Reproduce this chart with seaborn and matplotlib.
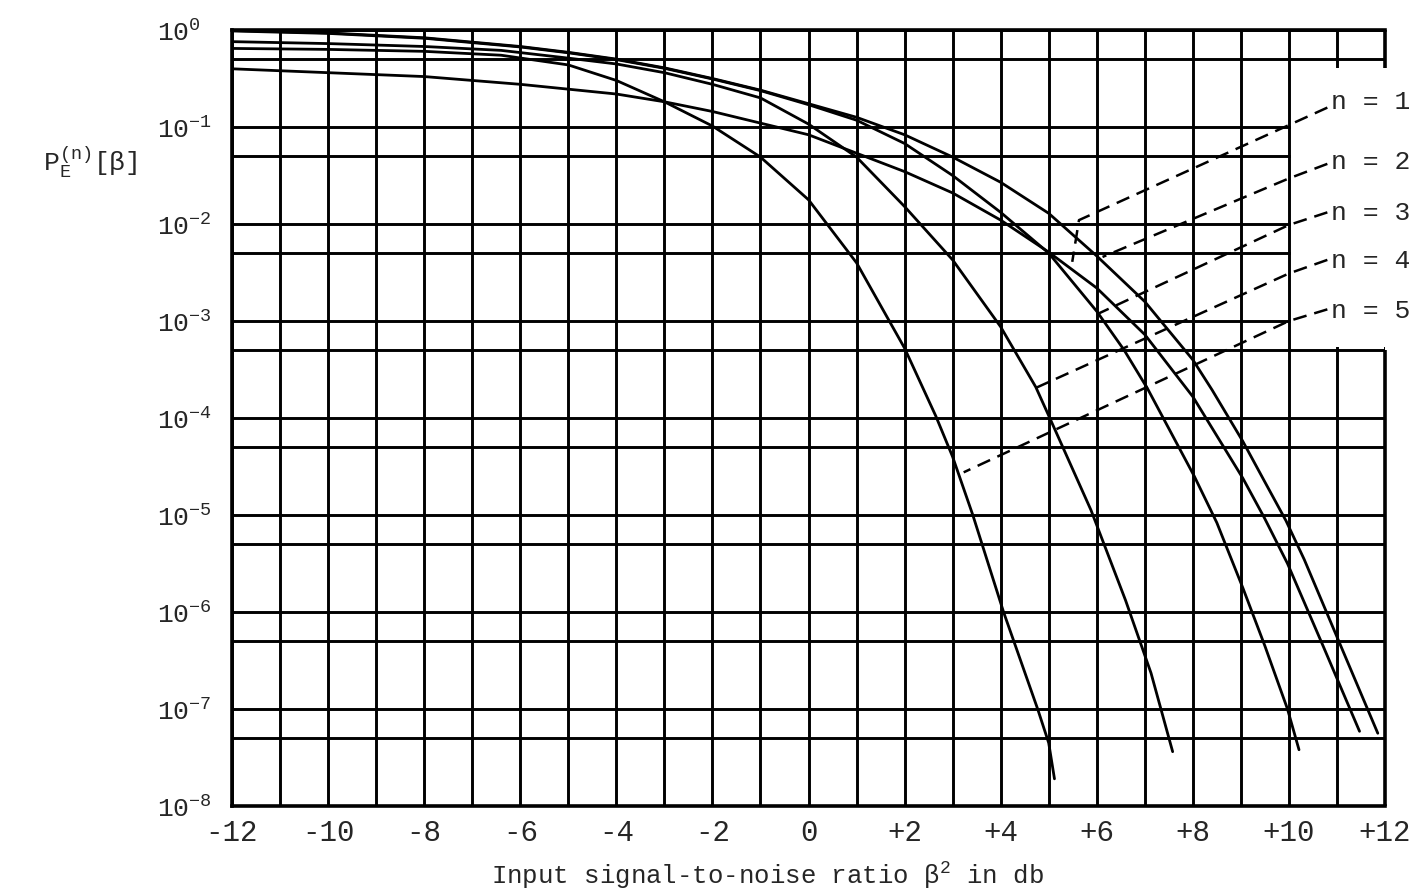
import numpy as np
import pandas as pd
import matplotlib
matplotlib.use("Agg")
import matplotlib.pyplot as plt
import seaborn as sns
from matplotlib.patches import Rectangle
from matplotlib.ticker import FixedLocator, NullFormatter

# ---------------- data ----------------
# x: input signal-to-noise ratio in dB ; values: log10 of P_E read on the log grid
snr_n1 = [-12, -10, -8, -6, -4, -3, -2, -1, 0, 1, 2, 3, 4, 5, 6, 7, 8, 9.04, 9.49, 9.97, 10.72, 11.47]
log_pe_n1 = [-0.40, -0.44, -0.48, -0.56, -0.66, -0.74, -0.84, -0.96, -1.08, -1.27, -1.46, -1.68, -1.96, -2.29,
             -2.66, -3.14, -3.78, -4.62, -5.03, -5.50, -6.36, -7.23]

snr_n2 = [-12, -10, -8, -6, -5, -4, -3, -2, -1, 0, 1, 2, 3, 4, 5, 6, 7, 8, 8.4, 9.04, 9.5, 9.94, 10.32, 11.08, 11.85]
log_pe_n2 = [-0.005, -0.03, -0.08, -0.17, -0.23, -0.30, -0.39, -0.50, -0.62, -0.76, -0.90, -1.08, -1.31, -1.57,
             -1.89, -2.33, -2.80, -3.40, -3.71, -4.24, -4.66, -5.06, -5.46, -6.35, -7.25]

snr_n3 = [-12, -10, -8, -6, -5, -4, -3, -2, -1, 0, 1, 2, 3, 4, 5, 6, 6.57, 7.06, 8.03, 8.5, 9.04, 9.5, 9.97, 10.21]
log_pe_n3 = [-0.01, -0.035, -0.085, -0.175, -0.235, -0.305, -0.395, -0.505, -0.625, -0.77, -0.93, -1.17, -1.50,
             -1.88, -2.30, -2.90, -3.30, -3.70, -4.60, -5.08, -5.75, -6.35, -7.00, -7.42]

snr_n4 = [-12, -10, -8, -6.4, -5, -4, -3, -2, -1, 0, 1, 2, 3, 4, 4.73, 5.04, 5.88, 6.6, 7.13, 7.58]
log_pe_n4 = [-0.12, -0.14, -0.17, -0.21, -0.29, -0.35, -0.44, -0.56, -0.70, -0.97, -1.31, -1.82, -2.37, -3.06,
             -3.68, -4.02, -4.95, -5.88, -6.63, -7.44]

snr_n5 = [-12, -10, -8, -6.4, -5, -4, -3, -2, -1, 0, 1, 2, 2.65, 3, 3.42, 4.06, 4.77, 5.0, 5.12]
log_pe_n5 = [-0.19, -0.20, -0.22, -0.26, -0.36, -0.52, -0.74, -0.99, -1.31, -1.75, -2.40, -3.28, -3.98, -4.40,
             -5.0, -6.0, -7.0, -7.35, -7.72]

series_names = ["n = 1", "n = 2", "n = 3", "n = 4", "n = 5"]

x_tick_values = [-12, -10, -8, -6, -4, -2, 0, 2, 4, 6, 8, 10, 12]
x_tick_labels = ["-12", "-10", "-8", "-6", "-4", "-2", "0", "+2", "+4", "+6", "+8", "+10", "+12"]
x_minor_values = [-11, -9, -7, -5, -3, -1, 1, 3, 5, 7, 9, 11]
y_tick_values = [1e0, 1e-1, 1e-2, 1e-3, 1e-4, 1e-5, 1e-6, 1e-7, 1e-8]
y_tick_labels = [r"$10^{0}$", r"$10^{-1}$", r"$10^{-2}$", r"$10^{-3}$", r"$10^{-4}$",
                 r"$10^{-5}$", r"$10^{-6}$", r"$10^{-7}$", r"$10^{-8}$"]
y_minor_values = [5e-1, 5e-2, 5e-3, 5e-4, 5e-5, 5e-6, 5e-7, 5e-8]

# leader lines (label end -> curve), in (dB, log10 P)
leader_label_y = [-0.74, -1.36, -1.89, -2.38, -2.90]
leader_paths = [
    [(10.80, -0.80), (10.0, -0.98), (5.63, -1.96), (5.49, -2.39)],
    [(10.80, -1.38), (10.0, -1.53), (6.12, -2.34)],
    [(10.80, -1.88), (10.0, -2.01), (6.05, -2.92)],
    [(10.80, -2.37), (10.0, -2.51), (4.73, -3.69)],
    [(10.80, -2.88), (10.0, -3.00), (3.23, -4.56)],
]

# ---------------- build table ----------------
frames = []
for name, xs, ls in zip(series_names,
                        [snr_n1, snr_n2, snr_n3, snr_n4, snr_n5],
                        [log_pe_n1, log_pe_n2, log_pe_n3, log_pe_n4, log_pe_n5]):
    frames.append(pd.DataFrame({"snr": xs, "pe": np.power(10.0, ls), "n": name}))
df = pd.concat(frames, ignore_index=True)

# ---------------- style ----------------
sns.set_style("white")
plt.rcParams["font.family"] = ["Liberation Mono", "DejaVu Sans Mono", "DejaVu Sans"]
plt.rcParams["mathtext.default"] = "regular"

fig = plt.figure(figsize=(14.18, 8.96), dpi=100)
fig.patch.set_facecolor("white")
ax = fig.add_axes([232 / 1418, 1 - 806 / 896, (1385 - 232) / 1418, (806 - 30) / 896])

sns.lineplot(data=df, x="snr", y="pe", hue="n", palette=["black"] * 5, estimator=None,
             sort=False, legend=False, linewidth=2.0, ax=ax, zorder=3)

ax.set_yscale("log")
ax.set_xlim(-12, 12)
ax.set_ylim(1e-8, 1e0)

ax.xaxis.set_major_locator(FixedLocator(x_tick_values))
ax.xaxis.set_minor_locator(FixedLocator(x_minor_values))
ax.set_xticklabels(x_tick_labels)
ax.yaxis.set_major_locator(FixedLocator(y_tick_values))
ax.yaxis.set_minor_locator(FixedLocator(y_minor_values))
ax.yaxis.set_minor_formatter(NullFormatter())
ax.set_yticklabels(y_tick_labels)

ax.set_axisbelow(True)
ax.grid(which="both", color="black", linewidth=2.1)
ax.tick_params(which="both", length=0)
ax.tick_params(axis="x", labelsize=21, pad=9)
ax.tick_params(axis="y", labelsize=19, pad=54)
for lab in ax.get_yticklabels():
    lab.set_horizontalalignment("left")

ax.set_xlabel("")
ax.set_ylabel("")

for side in ["left", "bottom", "top"]:
    ax.spines[side].set_color("black")
    ax.spines[side].set_linewidth(2.6)
ax.spines["right"].set_visible(False)

# blank area of the grid that holds the curve labels
blank_top = 0.41
ax.add_patch(Rectangle((10.05, 5.4e-4), 3.0, blank_top - 5.4e-4, facecolor="white",
                       edgecolor="none", zorder=1.5))
# right border pieces
ax.plot([12, 12], [1e-8, 5e-4], color="black", lw=2.6, clip_on=False, solid_capstyle="butt", zorder=2)
ax.plot([12, 12], [blank_top, 1e0], color="black", lw=2.6, clip_on=False, solid_capstyle="butt", zorder=2)

# labels and dashed leaders
for name, ly, path in zip(series_names, leader_label_y, leader_paths):
    ax.text(10.87, 10 ** ly, name, ha="left", va="center", fontsize=19, zorder=4)
    px = [p[0] for p in path]
    py = [10 ** p[1] for p in path]
    ax.plot(px, py, color="black", lw=1.8, linestyle=(0, (5.5, 3.2)), zorder=3)

fig.text(767 / 1418, 1 - 876 / 896, r"Input signal-to-noise ratio $\beta^{2}$ in db",
         ha="center", va="center", fontsize=18.5)
fig.text(90 / 1418, 1 - 162 / 896, r"$P_E^{(n)}[\beta]$", ha="center", va="center", fontsize=19)

fig.savefig("out.png", dpi=100, facecolor="white")
